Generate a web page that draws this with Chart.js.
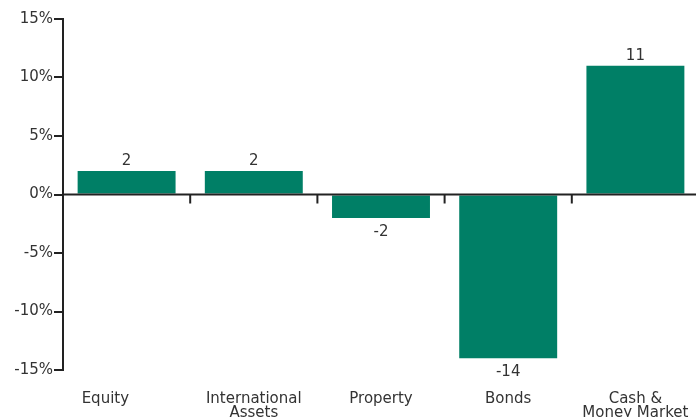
<!DOCTYPE html>
<html>
<head>
<meta charset="utf-8">
<script src="https://cdn.jsdelivr.net/npm/chart.js@4/dist/chart.umd.min.js"></script>
<style>
  html, body { margin: 0; padding: 0; background: #fff; overflow: hidden; }
  #wrap { width: 699px; height: 417px; position: relative; }
</style>
</head>
<body>
<div id="wrap"><canvas id="c"></canvas></div>
<script>
const categories = [['Equity'], ['International', 'Assets'], ['Property'], ['Bonds'], ['Cash &', 'Money Market']];
const values = [2, 2, -2, -14, 11];
const yTicks = [-15, -10, -5, 0, 5, 10, 15];

const FONT = '"DejaVu Sans", Verdana, sans-serif';
const INK = '#222222';
const TEXT = '#333333';
const BAR = '#007f66';

const axisPlugin = {
  id: 'zeroAxis',
  afterDatasetsDraw(chart) {
    const ctx = chart.ctx;
    const x = chart.scales.x, y = chart.scales.y;
    const y0 = y.getPixelForValue(0);
    ctx.save();
    // zero line with category separators
    ctx.strokeStyle = INK;
    ctx.lineWidth = 2;
    ctx.beginPath();
    ctx.moveTo(chart.chartArea.left, y0);
    ctx.lineTo(chart.width, y0);
    ctx.stroke();
    for (let i = 1; i < categories.length; i++) {
      const bx = (x.getPixelForValue(i - 1) + x.getPixelForValue(i)) / 2;
      ctx.beginPath();
      ctx.moveTo(bx, y0);
      ctx.lineTo(bx, y0 + 9);
      ctx.stroke();
    }
    const meta = chart.getDatasetMeta(0);
    ctx.fillStyle = TEXT;
    ctx.font = '15px ' + FONT;
    ctx.textBaseline = 'alphabetic';
    // value labels
    ctx.textAlign = 'center';
    meta.data.forEach((bar, i) => {
      const v = values[i];
      if (v >= 0) ctx.fillText(String(v), bar.x, bar.y - 6);
      else ctx.fillText(String(v), bar.x, bar.y + 18);
    });
    // category labels
    const base = chart.chartArea.bottom + 33;
    categories.forEach((lines, i) => {
      const cx = x.getPixelForValue(i);
      const bar = meta.data[i];
      let tx = cx;
      if (i === 0) { ctx.textAlign = 'left'; tx = bar.x - bar.width / 2 + 4; }
      else ctx.textAlign = 'center';
      lines.forEach((ln, j) => ctx.fillText(ln, tx, base + j * 13.5));
    });
    ctx.restore();
  }
};

new Chart(document.getElementById('c'), {
  type: 'bar',
  data: {
    labels: categories,
    datasets: [{
      data: values,
      backgroundColor: BAR,
      borderWidth: 0,
      barPercentage: 0.77,
      categoryPercentage: 1
    }]
  },
  options: {
    responsive: true,
    maintainAspectRatio: false,
    animation: false,
    events: [],
    layout: { padding: { top: 19, right: 0, bottom: 0, left: 0 } },
    plugins: { legend: { display: false }, tooltip: { enabled: false } },
    scales: {
      x: {
        grid: { display: false, drawTicks: false },
        border: { display: false },
        ticks: { display: false },
        afterFit(scale) { scale.height = 47; scale.paddingLeft = 0; scale.paddingRight = 0; }
      },
      y: {
        min: -15,
        max: 15,
        afterBuildTicks(scale) { scale.ticks = yTicks.map(v => ({ value: v })); },
        afterFit(scale) { scale.width = 63; },
        grid: { drawOnChartArea: false, color: INK, lineWidth: 2, tickLength: 9 },
        border: { display: true, color: INK, width: 2 },
        ticks: {
          color: TEXT,
          font: { family: FONT, size: 15 },
          padding: 1,
          callback: v => v + '%'
        }
      }
    }
  },
  plugins: [axisPlugin]
});
</script>
</body>
</html>
